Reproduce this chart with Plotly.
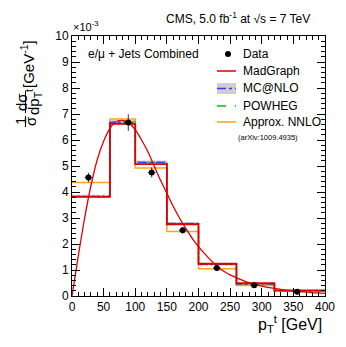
import plotly.graph_objects as go

# bin edges in GeV, values in 1e-3 GeV^-1
edges = [0, 60, 100, 150, 200, 260, 320, 400]
madgraph = [3.81, 6.62, 5.07, 2.76, 1.24, 0.49, 0.22]
mcatnlo = [3.83, 6.68, 5.14, 2.79, 1.22, 0.46, 0.20]
mcatnlo_err = [0.06, 0.09, 0.07, 0.05, 0.04, 0.03, 0.02]
powheg = [3.84, 6.70, 5.15, 2.78, 1.21, 0.46, 0.20]
nnlo = [4.37, 6.81, 4.92, 2.48, 1.05, 0.40, 0.19]

data_x = [26, 89, 126, 175, 229, 288, 356]
data_y = [4.56, 6.67, 4.75, 2.53, 1.08, 0.41, 0.16]
data_ey = [0.18, 0.32, 0.19, 0.13, 0.08, 0.05, 0.03]
data_ex = [6, 7, 6, 6, 6, 6, 6]

# smooth MadGraph curve
curve_x = [0, 10, 20, 30, 40, 50, 60, 70, 80, 90, 100, 110, 120, 130, 140, 150,
           160, 170, 180, 190, 200, 210, 220, 230, 240, 250, 260, 270, 280, 290,
           300, 320, 340, 360, 380, 400]
curve_y = [0, 1.55, 3.0, 4.25, 5.25, 5.95, 6.45, 6.7, 6.75, 6.65, 6.4, 6.0, 5.55,
           5.0, 4.45, 3.95, 3.45, 3.0, 2.6, 2.22, 1.9, 1.62, 1.36, 1.12, 0.95,
           0.81, 0.70, 0.60, 0.51, 0.44, 0.38, 0.29, 0.22, 0.17, 0.13, 0.10]


def steps(vals):
    return vals + [vals[-1]]


W, H = 346, 347
L, R, T, B = 72, 21, 36, 51
pw, ph = W - L - R, H - T - B


def px(x):
    return (x - L) / pw


def py(y):
    return (H - B - y) / ph


FONT = "Liberation Sans, Arial, sans-serif"

fig = go.Figure()

lo = [v - e for v, e in zip(mcatnlo, mcatnlo_err)]
hi = [v + e for v, e in zip(mcatnlo, mcatnlo_err)]
fig.add_trace(go.Scatter(x=edges, y=steps(lo), mode="lines", line=dict(width=0, shape="hv"),
                         showlegend=False, hoverinfo="skip"))
fig.add_trace(go.Scatter(x=edges, y=steps(hi), mode="lines", line=dict(width=0, shape="hv"),
                         fill="tonexty", fillcolor="rgba(190,190,190,0.75)",
                         showlegend=False, hoverinfo="skip"))
fig.add_trace(go.Scatter(x=edges, y=steps(nnlo), mode="lines",
                         line=dict(color="#ffa31a", width=1.5, shape="hv"), showlegend=False))
fig.add_trace(go.Scatter(x=edges, y=steps(powheg), mode="lines",
                         line=dict(color="#00c800", width=1.3, dash="3px,2px", shape="hv"),
                         showlegend=False))
fig.add_trace(go.Scatter(x=edges, y=steps(mcatnlo), mode="lines",
                         line=dict(color="#3a3aff", width=1.3, dash="dashdot", shape="hv"),
                         showlegend=False))
fig.add_trace(go.Scatter(x=edges, y=steps(madgraph), mode="lines",
                         line=dict(color="#dd0000", width=1.8, shape="hv"), showlegend=False))
fig.add_trace(go.Scatter(x=curve_x, y=curve_y, mode="lines", line=dict(color="#dd0000", width=1.3,
                         shape="spline"), showlegend=False))
fig.add_trace(go.Scatter(x=data_x, y=data_y, mode="markers",
                         marker=dict(color="black", size=6),
                         error_y=dict(type="data", array=data_ey, color="#333333", thickness=1, width=0),
                         error_x=dict(type="data", array=data_ex, color="#333333", thickness=1, width=0),
                         showlegend=False))

axis_common = dict(showgrid=False, zeroline=False, showline=True, linecolor="black", linewidth=1,
                   mirror="allticks", ticks="inside", ticklen=8, tickcolor="black",
                   tickfont=dict(family=FONT, size=12, color="black"))
fig.update_xaxes(range=[0, 400], dtick=50, tick0=0,
                 minor=dict(dtick=10, ticklen=4, ticks="inside", tickcolor="black"), **axis_common)
fig.update_yaxes(range=[0, 10], dtick=1, tick0=0,
                 minor=dict(dtick=0.2, ticklen=4, ticks="inside", tickcolor="black"), **axis_common)

ann = []
shapes = []


def text(x, y, s, size=12, xanchor="left", angle=0):
    ann.append(dict(x=px(x), y=py(y), xref="paper", yref="paper", text=s, showarrow=False,
                    xanchor=xanchor, yanchor="middle", textangle=angle,
                    font=dict(family=FONT, size=size, color="black")))


text(312, 18, "CMS, 5.0 fb<sup>-1</sup> at √s = 7 TeV", 12, "right")
text(71, 26, "×10<sup>-3</sup>", 11, "left")
text(86, 54, "e/μ + Jets Combined", 12, "left")
text(324, 324, "p<sub>T</sub><sup>t</sup> [GeV]", 16, "right")

# y axis title, built as two stacked fractions
text(21, 121, "1", 15, "center", -90)
text(31, 121, "σ", 15, "center", -90)
text(21, 102, "dσ", 15, "center", -90)
text(33, 102, "dp<sub>T</sub><sup>t</sup>", 15, "center", -90)
text(28, 64, "[GeV<sup>-1</sup>]", 15, "center", -90)
for y0, y1 in [(116, 127), (91, 113)]:
    shapes.append(dict(type="line", xref="paper", yref="paper", x0=px(25.5), x1=px(25.5),
                       y0=py(y0), y1=py(y1), line=dict(color="black", width=1)))

# legend
lx0, lx1, tx = 217, 236, 241
shapes.append(dict(type="rect", xref="paper", yref="paper", x0=px(lx0), x1=px(lx1),
                   y0=py(94), y1=py(83), fillcolor="rgba(190,190,190,0.75)", line=dict(width=0)))
for y, col, dash, w in [(71, "#dd0000", "solid", 1.5), (88.5, "#3a3aff", "dashdot", 1.3),
                        (106, "#00c800", "dash", 1.3), (122, "#ffa31a", "solid", 1.5)]:
    shapes.append(dict(type="line", xref="paper", yref="paper", x0=px(lx0), x1=px(lx1),
                       y0=py(y), y1=py(y), line=dict(color=col, width=w, dash=dash)))
shapes.append(dict(type="circle", xref="paper", yref="paper", x0=px(225), x1=px(231),
                   y0=py(57), y1=py(51), fillcolor="black", line=dict(width=0)))
text(tx, 54, "Data")
text(tx, 71, "MadGraph")
text(tx, 88.5, "MC@NLO")
text(tx, 106, "POWHEG")
text(tx, 122, "Approx. NNLO")
text(268, 137, "(arXiv:1009.4935)", 7.5, "center")

fig.update_layout(width=W, height=H, margin=dict(l=L, r=R, t=T, b=B),
                  paper_bgcolor="white", plot_bgcolor="white",
                  annotations=ann, shapes=shapes, showlegend=False)

fig.write_html("out.html", config={"displayModeBar": False},
               post_script="document.body.style.margin='0';")
